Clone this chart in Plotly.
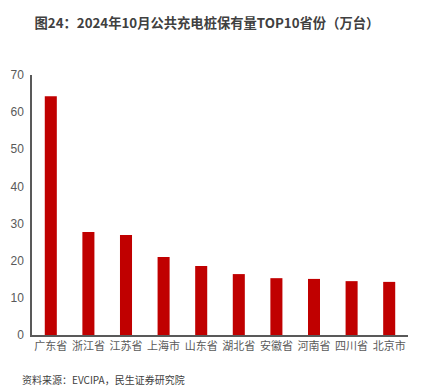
import plotly.graph_objects as go

categories = ["广东省", "浙江省", "江苏省", "上海市", "山东省", "湖北省", "安徽省", "河南省", "四川省", "北京市"]
values = [64.3, 27.7, 26.9, 21.0, 18.6, 16.4, 15.3, 15.1, 14.5, 14.3]
y_ticks = [0, 10, 20, 30, 40, 50, 60, 70]

font_family = "Microsoft YaHei, Noto Sans CJK SC, sans-serif"

fig = go.Figure()
fig.add_trace(go.Bar(
    x=categories, y=values,
    marker=dict(color="#C00000", line=dict(width=0)),
    width=0.32,
))

fig.update_layout(
    width=426, height=383,
    margin=dict(l=24, r=26, t=67, b=56),
    paper_bgcolor="white", plot_bgcolor="white",
    showlegend=False,
    font=dict(family=font_family, color="#595959", size=11),
    title=dict(
        text="<b>图24：2024年10月公共充电桩保有量TOP10省份（万台）</b>",
        x=0.467, xanchor="center", y=0.961, yanchor="middle",
        font=dict(size=13.3, color="#404040", family=font_family),
    ),
)
fig.update_xaxes(
    showline=True, linecolor="#595959", linewidth=1.5,
    ticks="", showgrid=False, automargin=False,
    tickfont=dict(size=11, color="#595959"),
)
fig.update_yaxes(
    range=[0, 70], tickvals=y_ticks,
    showline=True, linecolor="#595959", linewidth=1.5,
    showgrid=False, zeroline=False, ticks="", automargin=False,
    tickfont=dict(size=12, color="#595959", family="Liberation Sans, Arial, sans-serif"),
    ticklabelstandoff=4,
)
fig.add_annotation(
    text="资料来源：EVCIPA，民生证券研究院",
    xref="paper", yref="paper", x=-0.032, y=-0.173,
    xanchor="left", yanchor="middle", showarrow=False,
    font=dict(size=10, color="#404040", family=font_family),
)
fig.write_html("out.html")
